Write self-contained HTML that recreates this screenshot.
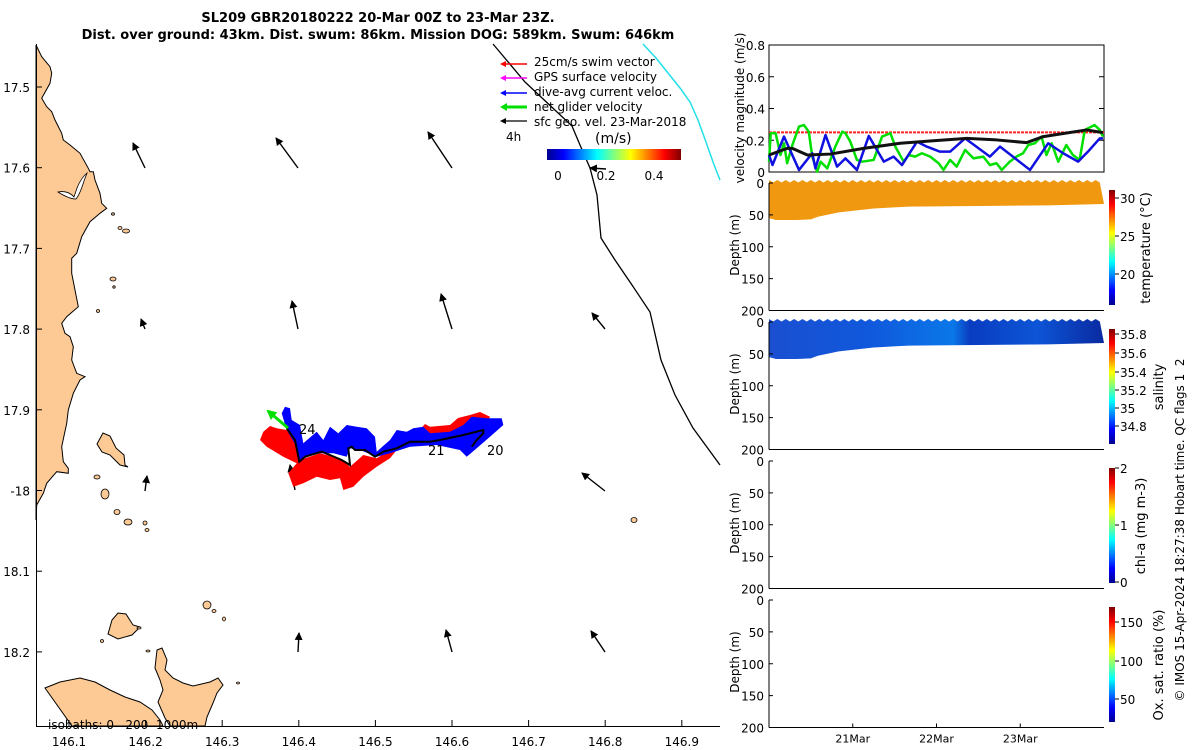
<!DOCTYPE html>
<html><head><meta charset="utf-8">
<style>
html,body{margin:0;padding:0;background:#fff;}
svg{display:block;font-family:"DejaVu Sans","Liberation Sans",sans-serif;}
text{white-space:pre;}
</style></head>
<body>
<svg id="fig" width="1200" height="750" viewBox="0 0 1200 750" xmlns="http://www.w3.org/2000/svg">
<defs>
<linearGradient id="jetH" x1="0" x2="1" y1="0" y2="0">
<stop offset="0" stop-color="#00008f"/><stop offset="0.125" stop-color="#0000ff"/><stop offset="0.375" stop-color="#00ffff"/><stop offset="0.625" stop-color="#ffff00"/><stop offset="0.875" stop-color="#ff0000"/><stop offset="1" stop-color="#800000"/>
</linearGradient>
<linearGradient id="jetV" x1="0" x2="0" y1="1" y2="0">
<stop offset="0" stop-color="#00008f"/><stop offset="0.125" stop-color="#0000ff"/><stop offset="0.375" stop-color="#00ffff"/><stop offset="0.625" stop-color="#ffff00"/><stop offset="0.875" stop-color="#ff0000"/><stop offset="1" stop-color="#800000"/>
</linearGradient>
<linearGradient id="salG" x1="0" x2="1" y1="0" y2="0">
<stop offset="0" stop-color="#1a4fd0"/><stop offset="0.3" stop-color="#1058dc"/><stop offset="0.55" stop-color="#0a78e8"/><stop offset="0.6" stop-color="#0a3cc0"/><stop offset="0.8" stop-color="#0c55d6"/><stop offset="1" stop-color="#0a2aa0"/>
</linearGradient>
<marker id="ah" markerWidth="8" markerHeight="8" refX="7" refY="4" orient="auto" markerUnits="userSpaceOnUse"><path d="M0,0 L8,4 L0,8 z" fill="#000"/></marker>
<marker id="ahg" markerWidth="10" markerHeight="10" refX="8" refY="5" orient="auto" markerUnits="userSpaceOnUse"><path d="M0,0 L10,5 L0,10 z" fill="#00e000"/></marker>
</defs>

<text x="378" y="22" text-anchor="middle" font-size="13" font-weight="bold">SL209 GBR20180222 20-Mar 00Z to 23-Mar 23Z.</text>
<text x="378" y="39" text-anchor="middle" font-size="13" font-weight="bold">Dist. over ground: 43km. Dist. swum: 86km. Mission DOG: 589km. Swum: 646km</text>

<g>
<polygon fill="#fdca96" stroke="#000" stroke-width="1" points="36,45 41.7,56.7 50,66.7 51.7,73.3 50,83.3 41.7,98.3 46.7,106.7 51.7,111.7 55,120 61.7,133.3 63.3,140 70,145 80,153.3 88.3,168.3 90,171.7 93.3,171.7 95,180 100,193.3 101.7,203.3 106.7,208.3 100,213.3 90,221.7 81.7,236.7 76.7,253.3 71.7,258.3 71.7,273.3 78.3,306.7 66.7,316.7 61.7,323.3 65,333.3 70,336.7 73.3,346.7 71.7,360 76.7,373.3 85,376.7 80,380 73.3,393.3 68.3,410 66.7,423.3 61.7,446.7 63.3,461.7 68.3,468.3 68.3,473.3 56.7,471.7 46.7,483.3 43.3,493.3 36.7,505 36,520"/>
<path d="M58,192 Q68,190 74,197 L77,188 Q81,178 87,173 L84,181 Q80,194 76,199 Q69,199 58,192 Z" fill="#fff" stroke="#000" stroke-width="0.8"/>
<polygon fill="#fdca96" stroke="#000" points="97,444 103,433 110,436 116,448 124,455 125,465 128,467 120,465 110,455 102,452"/>
<polygon fill="#fdca96" stroke="#000" points="108,634 112,620 118,613 126,614 133,625 140,627 132,635 118,639"/>
<polygon fill="#fdca96" stroke="#000" points="45,688 60,682 80,678 95,682 110,690 125,697 140,702 152,710 160,720 163,726 72,726"/>
<polygon fill="#fdca96" stroke="#000" points="157,650 162,648 167,660 165,670 173,678 183,683 193,686 210,682 218,678 223,685 217,693 213,703 207,717 205,726 170,726 165,718 158,702 163,690 160,680 155,668"/>
<g fill="#fdca96" stroke="#000" stroke-width="0.8">
<ellipse cx="126" cy="231" rx="3.5" ry="2"/><ellipse cx="113" cy="214" rx="1.5" ry="1.2"/><ellipse cx="120" cy="228" rx="2" ry="1.5"/>
<ellipse cx="113" cy="279" rx="3" ry="2"/><ellipse cx="114" cy="287" rx="1.2" ry="1.2"/><ellipse cx="98" cy="311" rx="1.5" ry="1.5"/>
<ellipse cx="97" cy="477" rx="3" ry="2"/><ellipse cx="105" cy="494" rx="4" ry="5"/><ellipse cx="117" cy="512" rx="3" ry="2.5"/><ellipse cx="128" cy="522" rx="4" ry="3"/>
<ellipse cx="145" cy="523" rx="2" ry="2"/><ellipse cx="147" cy="530" rx="2" ry="1.5"/><ellipse cx="634" cy="520" rx="3" ry="2.5"/>
<ellipse cx="207" cy="605" rx="4" ry="4"/><ellipse cx="214" cy="611" rx="2" ry="1.5"/><ellipse cx="224" cy="619" rx="1.5" ry="2"/><ellipse cx="102" cy="641" rx="1.5" ry="1.5"/><ellipse cx="139" cy="628" rx="2" ry="1"/>
<ellipse cx="238" cy="683" rx="1.5" ry="1"/><ellipse cx="148" cy="651" rx="2" ry="1"/>
</g>
<polyline fill="none" stroke="#000" stroke-width="1.3" points="493,44 525,82 572,126 580,145 590,168 597,195 601,238 615,260 632,285 650,312 661,360 675,395 693,428 720,465"/>
<polyline fill="none" stroke="#22e0e8" stroke-width="1.5" points="643,44 656,58 668,73 680,88 690,102 698,120 706,142 713,162 720,180"/>
<g stroke="#000" stroke-width="1.4">
<line x1="145" y1="168" x2="133" y2="143" marker-end="url(#ah)"/><line x1="298" y1="168" x2="276" y2="138" marker-end="url(#ah)"/><line x1="452" y1="168" x2="428" y2="132" marker-end="url(#ah)"/><line x1="606" y1="169" x2="590" y2="168" marker-end="url(#ah)"/>
<line x1="145" y1="329" x2="141" y2="319" marker-end="url(#ah)"/><line x1="298" y1="329" x2="292" y2="301" marker-end="url(#ah)"/><line x1="452" y1="329" x2="441" y2="294" marker-end="url(#ah)"/><line x1="605" y1="329" x2="592" y2="313" marker-end="url(#ah)"/>
<line x1="145" y1="491" x2="147" y2="476" marker-end="url(#ah)"/><line x1="295" y1="490" x2="290" y2="465" marker-end="url(#ah)"/><line x1="605" y1="491" x2="582" y2="473" marker-end="url(#ah)"/>
<line x1="298" y1="652" x2="299" y2="633" marker-end="url(#ah)"/><line x1="452" y1="652" x2="446" y2="630" marker-end="url(#ah)"/><line x1="605" y1="652" x2="591" y2="631" marker-end="url(#ah)"/>
</g>
<polygon fill="#ff0000" points="263.3,431.7 270,426 276.7,428.3 286.7,430 296.7,443.3 300,460 320,453.3 340,458.3 350,466.7 363.3,455 376.7,458.3 390,450 400,440 416.7,433.3 425,424 430,426.7 450,425 458,418 470,415 480,412 490,416.7 483.3,430 470,436.7 450,440 430,441.7 410,443.3 396.7,450 390,458.3 376.7,466.7 363.3,476.7 353.3,486.7 343.3,490 340,478.3 330,480 316.7,476.7 303.3,483.3 293.3,486.7 288.3,473.3 296.7,463.3 283.3,456.7 266.7,446.7 260,440"/>
<polygon fill="#0000ff" points="285,406.7 290,408.3 291.7,420 300,425 303.3,443.3 316.7,431.7 323.3,440 330,426.7 338.3,433.3 346.7,425 356.7,426.7 366.7,428.3 375,436.7 376.7,451.7 390,440 396.7,430 406.7,431.7 413.3,428.3 423.3,426.7 430,433.3 450,431.7 463.3,425 471.7,416.7 486.7,418.3 501.7,418.3 503.3,425 490,436.7 476.7,448.3 466.7,456.7 460,450 436.7,445 410,446.7 390,453.3 376.7,456.7 360,450 350,448.3 346.7,456.7 333.3,453.3 316.7,453.3 300,460 296.7,446.7 286.7,430 281.7,413.3"/>
<polyline fill="none" stroke="#000" stroke-width="2" points="286.7,428.3 295,440 299.3,461.7 305,456.7 321.7,451.7 330,455 341.7,460 350,465 348.3,448.3 351.7,446.7 355,450 365,450 375,456.7 383.3,451.7 396.7,448.3 406.7,443.3 410,441.7 430,441.7 440,440 463.3,435 483.3,430 483.3,433.3 476.7,440 471.7,446.7"/>
<line x1="288" y1="428" x2="268" y2="411" stroke="#00e000" stroke-width="3" marker-end="url(#ahg)"/>
<text x="299" y="434" font-size="13">24</text>
<text x="428" y="455" font-size="13">21</text>
<text x="487" y="455" font-size="13">20</text>
<g font-size="12">
<line x1="527" y1="64" x2="502" y2="64" stroke="#ff0000" stroke-width="1.5"/><path d="M500,64 l6,-3 v6z" fill="#ff0000"/>
<line x1="527" y1="78" x2="502" y2="78" stroke="#ff00ff" stroke-width="1.5"/><path d="M500,78 l6,-3 v6z" fill="#ff00ff"/>
<line x1="527" y1="93" x2="502" y2="93" stroke="#0000ff" stroke-width="1.5"/><path d="M500,93 l6,-3 v6z" fill="#0000ff"/>
<line x1="527" y1="107" x2="503" y2="107" stroke="#00e000" stroke-width="3"/><path d="M500,107 l7,-4 v8z" fill="#00e000"/>
<line x1="527" y1="121" x2="502" y2="121" stroke="#000" stroke-width="1.2"/><path d="M500,121 l6,-3 v6z" fill="#000"/>
<text x="534" y="66">25cm/s swim vector</text>
<text x="534" y="81">GPS surface velocity</text>
<text x="534" y="96">dive-avg current veloc.</text>
<text x="534" y="111">net glider velocity</text>
<text x="534" y="126">sfc geo. vel. 23-Mar-2018</text>
<text x="506" y="141">4h</text>
<text x="595" y="143" font-size="14">(m/s)</text>
<rect x="547" y="149" width="134" height="11" fill="url(#jetH)"/>
<text x="558" y="180" text-anchor="middle">0</text><text x="606" y="180" text-anchor="middle">0.2</text><text x="654" y="180" text-anchor="middle">0.4</text>
</g>
<text x="48" y="729" font-size="12" xml:space="preserve">isobaths: 0   200  1000m</text>
<g font-size="12" stroke-width="1">
<line x1="36.5" y1="44" x2="36.5" y2="726" stroke="#000"/>
<line x1="36" y1="726.5" x2="720" y2="726.5" stroke="#000"/>
<g id="mapTicks"></g>
</g>
</g>

<g id="right"></g>
<text transform="translate(1184,530) rotate(-90)" text-anchor="middle" font-size="12">© IMOS 15-Apr-2024 18:27:38 Hobart time. QC flags 1  2</text>
</svg>

<script>
const NS = "http://www.w3.org/2000/svg";
const lonTicks = ["146.1","146.2","146.3","146.4","146.5","146.6","146.7","146.8","146.9"];
const latTicks = ["17.5","17.6","17.7","17.8","17.9","-18","18.1","18.2"];
const blueH = [0,1,4.3,8.6,12.4,13.3,16.2,19.5,21.9,25.2,28.6,32.9,35.7,38.1,42.4,45.2,49,51.9,56.2,63.3,66.2,74.8,80,84.3,88.6,91.4,94.8,95.7];
const blueV = [0.107,0.044,0.223,0.013,0.118,0.023,0.233,0.034,0.086,0.013,0.227,0.065,0.097,0.044,0.191,0.160,0.128,0.128,0.212,0.097,0.160,0.013,0.181,0.118,0.065,0.128,0.212,0.212];
const greenH = [0,0.5,1.9,3.3,4.3,5.2,6.7,8.6,10,11.4,12.4,13.8,14.8,16.7,19,21,21.9,23.3,25.2,26.7,30,32.4,34.8,36.2,38.6,40,41.9,43.8,46.2,48.6,50,51.9,53.8,56.2,58.6,61.4,63.3,65.2,66.7,69,70.9,72.8,74.3,76.2,78.1,79.5,81,82.9,85.2,87.1,89,90.5,93.3,94.8,95.7];
const greenV = [0.065,0.244,0.244,0.107,0.181,0.055,0.170,0.286,0.296,0.254,0.097,0.002,0.065,0.023,0.160,0.254,0.244,0.191,0.076,0.065,0.076,0.223,0.244,0.160,0.065,0.107,0.097,0.118,0.097,0.055,0.013,0.076,0.034,0.139,0.086,0.097,0.044,0.055,0.013,0.065,0.097,0.118,0.170,0.181,0.223,0.107,0.181,0.065,0.170,0.107,0.076,0.265,0.296,0.265,0.223];
const blackH = [0,5.2,6.7,11,17.6,27.1,37.6,47.1,56.7,65.2,73.8,78.6,91,95.7];
const blackV = [0.107,0.149,0.149,0.107,0.113,0.149,0.181,0.197,0.212,0.202,0.185,0.223,0.265,0.248];
const swimSpeed = 0.25;
const velTicks = ["0","0.2","0.4","0.6","0.8"];
const profH = [0,2,8,12,14,20,30,40,60,80,96];
const profD = [55,58,58,57,53,46,40,37,36,35,33];
const depthTicks = ["0","50","100","150","200"];
const dayTicks = ["21Mar","22Mar","23Mar"];
const tempTicks = ["30","25","20"];
const salTicks = ["35.8","35.6","35.4","35.2","35","34.8"];
const chlTicks = ["2","1","0"];
const oxTicks = ["150","100","50"];

function mk(tag, attrs, parent){const e=document.createElementNS(NS,tag);for(const k in attrs)e.setAttribute(k,attrs[k]);parent.appendChild(e);return e;}
function txt(parent,x,y,s,anchor,size){const t=mk('text',{x:x,y:y,'text-anchor':anchor||'middle','font-size':size||12},parent);t.textContent=s;return t;}

const mt=document.getElementById('mapTicks');
const lonX=v=>69+(parseFloat(v)-146.1)*766;
lonTicks.forEach(s=>{const x=lonX(s);mk('line',{x1:x,y1:726,x2:x,y2:720,stroke:'#000'},mt);const t=txt(mt,x,746,s);

});
latTicks.forEach((s,i)=>{const y=87+i*80.7;mk('line',{x1:36,y1:y,x2:42,y2:y,stroke:'#000'},mt);const t=txt(mt,30,y+5,s,'end');

});

const R=document.getElementById('right');
const X0=769,X1=1104;
const xh=h=>X0+h*(X1-X0)/96;

const vTop=45,vBot=172;
const vy=v=>vBot-v/0.8*(vBot-vTop);
const vp=mk('g',{},R);


mk('rect',{x:X0,y:vTop,width:X1-X0,height:vBot-vTop,fill:'none',stroke:'#000'},vp);
velTicks.forEach(s=>{const y=vy(parseFloat(s));mk('line',{x1:X0,y1:y,x2:X0+5,y2:y,stroke:'#000'},vp);mk('line',{x1:X1,y1:y,x2:X1-5,y2:y,stroke:'#000'},vp);const t=txt(vp,X0-4,y+5,s,'end');

});
const sw=mk('line',{x1:X0,y1:vy(swimSpeed),x2:X1,y2:vy(swimSpeed),stroke:'#ff2020','stroke-width':2,'stroke-dasharray':'3,1'},vp);


function series(H,V,color,w,name){const p=mk('polyline',{points:H.map((h,i)=>xh(h)+','+vy(V[i])).join(' '),fill:'none',stroke:color,'stroke-width':w,'stroke-linejoin':'round'},vp);

}
series(greenH,greenV,'#00e000',2.5,'net-glider-velocity-line');
series(blueH,blueV,'#1010e0',2.5,'dive-avg-current-line');
series(blackH,blackV,'#111',3,'geostrophic-velocity-line');
const vl=mk('text',{transform:'translate(744,108) rotate(-90)','text-anchor':'middle','font-size':12},vp);vl.textContent='velocity magnitude (m/s)';



const panels=[{top:183,name:'temperature',fill:'#f0980f',cb:'temperature (°C)',ticks:tempTicks,tpos:[198,236,274],lx:1150},
{top:322,name:'salinity',fill:'url(#salG)',cb:'salinity',ticks:salTicks,tpos:[334,353,372,390,408,426],lx:1163},
{top:461,name:'chl-a',fill:null,cb:'chl-a (mg m-3)',ticks:chlTicks,tpos:[468,525,582],lx:1145},
{top:600,name:'oxygen',fill:null,cb:'Ox. sat. ratio (%)',ticks:oxTicks,tpos:[622,661,699],lx:1163}];
panels.forEach((P,pi)=>{
 const g=mk('g',{},R);
 
 
 const H=127.5, dy=d=>P.top+d/200*H;
 if(P.fill){
  let pts=[];
  for(let h=0;h<=96;h+=1.2){pts.push(xh(h)+','+(P.top-3+((Math.round(h/1.2))%2?2.5:0)));}
  for(let i=profH.length-1;i>=0;i--){pts.push(xh(profH[i])+','+dy(profD[i]));}
  const f=mk('polygon',{points:pts.join(' '),fill:P.fill},g);
  
  
 }
 mk('line',{x1:X0,y1:P.top,x2:X0,y2:P.top+H,stroke:'#000'},g);
 mk('line',{x1:X0,y1:P.top+H,x2:X1,y2:P.top+H,stroke:'#000'},g);
 depthTicks.forEach(s=>{const y=dy(parseFloat(s));mk('line',{x1:X0,y1:y,x2:X0+4,y2:y,stroke:'#000'},g);const t=txt(g,X0-5,y+5,s,'end');
 
 });
 const dl=mk('text',{transform:'translate(739,'+(P.top+62)+') rotate(-90)','text-anchor':'middle','font-size':12},g);dl.textContent='Depth (m)';
 
 
 const cb=mk('rect',{x:1109,y:P.top+7,width:6,height:115,fill:'url(#jetV)'},g);
 
 
 P.ticks.forEach((s,i)=>{mk('line',{x1:1115,y1:P.tpos[i],x2:1119,y2:P.tpos[i],stroke:'#000'},g);const t=txt(g,1120,P.tpos[i]+5,s,'start');
 
 });
 const cl=mk('text',{transform:'translate('+P.lx+','+(P.top+65)+') rotate(-90)','text-anchor':'middle','font-size':13},g);cl.textContent=P.cb;
 
 
 if(pi===3){dayTicks.forEach((s,i)=>{const x=xh(24*(i+1));mk('line',{x1:x,y1:P.top+H,x2:x,y2:P.top+H-4,stroke:'#000'},g);const t=txt(g,x,P.top+H+15,s,'middle',11);
 
 });}
});
</script>
</body></html>
